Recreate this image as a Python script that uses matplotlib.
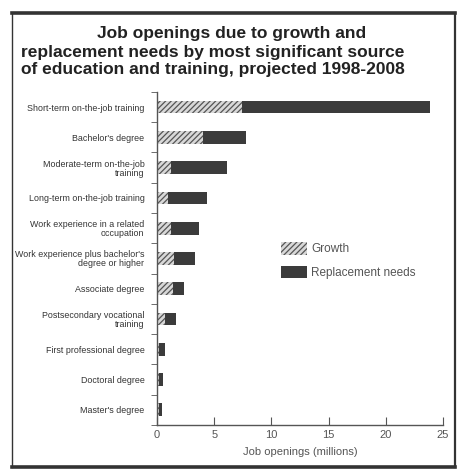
import numpy as np
from matplotlib import pyplot as plt
from matplotlib.lines import Line2D
from matplotlib.patches import Patch

# categories, top to bottom
categories = [
    "Short-term on-the-job training",
    "Bachelor's degree",
    "Moderate-term on-the-job\ntraining",
    "Long-term on-the-job training",
    "Work experience in a related\noccupation",
    "Work experience plus bachelor's\ndegree or higher",
    "Associate degree",
    "Postsecondary vocational\ntraining",
    "First professional degree",
    "Doctoral degree",
    "Master's degree",
]
growth = [7.45, 4.0, 1.25, 0.95, 1.25, 1.5, 1.4, 0.7, 0.2, 0.15, 0.15]
replacement = [16.45, 3.8, 4.85, 3.45, 2.45, 1.85, 1.0, 0.95, 0.5, 0.4, 0.3]
xticks = [0, 5, 10, 15, 20, 25]

plt.rcParams['font.family'] = ['Liberation Sans', 'DejaVu Sans']
plt.rcParams['hatch.color'] = '#3a3a3a'
plt.rcParams['hatch.linewidth'] = 0.9

dark = '#3b3b3b'
light = '#d8d8d8'
txt = '#333333'

fig = plt.figure(figsize=(4.59, 4.69), dpi=100)
ax = fig.add_axes([0.342, 0.094, 0.623, 0.710])

y = np.arange(len(categories))
ax.barh(y, growth, height=0.42, color=light, hatch='//////', edgecolor='#555555',
        linewidth=0, label="Growth")
ax.barh(y, replacement, left=growth, height=0.42, color=dark, linewidth=0,
        label="Replacement needs")

ax.set_xlim(0, 25)
ax.set_ylim(len(categories) - 0.5, -0.5)
ax.set_xticks(xticks)
ax.set_xticklabels([str(t) for t in xticks], color='#555555', fontsize=8)
ax.tick_params(axis='x', direction='in', length=6, color='#555555', pad=4)

ax.set_yticks(y)
ax.set_yticklabels(categories, fontsize=6.4, color=txt, linespacing=1.0)
ax.tick_params(axis='y', which='major', length=0, pad=9)
ax.set_yticks(np.arange(len(categories) + 1) - 0.5, minor=True)
ax.tick_params(axis='y', which='minor', length=4, direction='out', color='#555555')

for s in ['top', 'right']:
    ax.spines[s].set_visible(False)
for s in ['left', 'bottom']:
    ax.spines[s].set_color('#555555')
    ax.spines[s].set_linewidth(1.0)

ax.set_xlabel("Job openings (millions)", fontsize=8, color='#555555', labelpad=5)

handles = [Patch(facecolor=light, hatch='//////', edgecolor='#555555', linewidth=0),
           Patch(facecolor=dark, linewidth=0)]
fig.legend(handles, ["Growth", "Replacement needs"], loc='upper left',
           bbox_to_anchor=(0.589, 0.507), frameon=False, fontsize=8.5,
           handlelength=2.2, handleheight=1.3, handletextpad=0.35,
           labelspacing=0.88, labelcolor='#555555')

# title
tstyle = dict(va='center', fontsize=12.5, fontweight='bold', color='#222222')
fig.text(0.505, 0.929, "Job openings due to growth and", ha='center', **tstyle)
fig.text(0.046, 0.889, "replacement needs by most significant source", ha='left', **tstyle)
fig.text(0.046, 0.851, "of education and training, projected 1998-2008", ha='left', **tstyle)

# frame around the whole chart
W, H = 459.0, 469.0
def fx(px):
    return px / W
def fy(py):
    return 1 - py / H
frame = [
    ((11.5, 454.5), (13.5, 13.5), 2.6),
    ((11.5, 454.5), (466.5, 466.5), 2.6),
    ((12, 12), (13.5, 466.5), 1.0),
    ((454.5, 454.5), (13.5, 466.5), 1.6),
]
for xs, ys, lw in frame:
    fig.add_artist(Line2D([fx(xs[0]), fx(xs[1])], [fy(ys[0]), fy(ys[1])],
                          color='#333333', linewidth=lw))

fig.savefig("out.png", dpi=100)
